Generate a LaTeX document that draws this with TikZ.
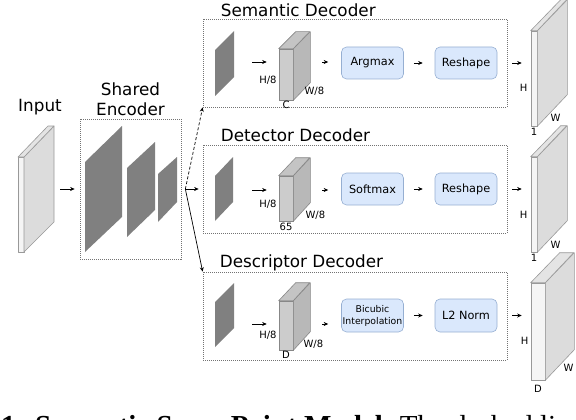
\documentclass[tikz,border=0pt]{standalone}
\usepackage{fontspec}
\setmainfont{DejaVu Sans}
\newfontfamily\capfont{Liberation Serif}
\usetikzlibrary{positioning, calc, arrows.meta}

\definecolor{encgray}{RGB}{128,128,128}
\definecolor{cubefront}{RGB}{204,204,204}
\definecolor{cubeside}{RGB}{184,184,184}
\definecolor{cubetop}{RGB}{196,196,196}
\definecolor{slabfront}{RGB}{245,245,245}
\definecolor{slabside}{RGB}{220,220,220}
\definecolor{slabtop}{RGB}{228,228,228}
\definecolor{opfill}{RGB}{218,232,252}
\definecolor{opdraw}{RGB}{150,175,210}
\definecolor{edgegray}{RGB}{135,135,135}

\begin{document}
\begin{tikzpicture}[x=1pt, y=-1pt]
\tikzset{encslab/.style={fill=encgray, draw=none},
    cubeface/.style={draw=edgegray, line width=0.6pt, line join=round},
    cubebox/.style={rectangle, draw=edgegray, fill=cubefront, line width=0.6pt, minimum width=14pt, inner sep=0},
    outface/.style={draw=edgegray!85, line width=0.6pt, line join=round},
    outbox/.style={rectangle, draw=edgegray!85, fill=slabfront, line width=0.6pt, inner sep=0},
    decbox/.style={rectangle, draw=black!55, dash pattern=on 1pt off 1pt, line width=0.7pt, minimum width=304pt, minimum height=88pt, inner sep=0},
    opbox/.style={rectangle, rounded corners=5pt, draw=opdraw, fill=opfill, line width=0.6pt, minimum width=62pt, minimum height=32pt, inner sep=1pt, font=\fontsize{11.3}{13}\selectfont},
    headtext/.style={inner sep=0, text depth=0pt, font=\fontsize{16.8}{20}\selectfont},
    dimlab/.style={inner sep=1pt, font=\fontsize{10}{12}\selectfont},
    arr/.style={-{Stealth[length=4.5pt, width=4pt]}, line width=0.7pt}
}

    \useasboundingbox (0,0) rectangle (576,420);
    \clip (0,0) rectangle (576,420);

    % input
    \filldraw[outface, fill=slabfront] (18,157) rectangle (24,252);
    \filldraw[outface, fill=slabside] (24,157) -- (54,126) -- (54,222) -- (24,252) -- cycle;
    \filldraw[outface, fill=slabtop] (18,157) -- (48,126) -- (54,126) -- (24,157) -- cycle;
    \coordinate (inslab) at (54,189);
    \node[headtext, anchor=base] (input) at (40,111) {Input};

    % shared encoder
    \node[decbox, minimum width=101pt, minimum height=140pt] (enc) at (130.5,189) {};
    \node[headtext, align=center, above=3pt of enc] (enctitle) {Shared\\Encoder};
    \fill[encslab] (85,162) -- (122,126) -- (122,217) -- (85,252) -- cycle;
    \fill[encslab] (127,168) -- (155,142) -- (155,210) -- (127,237) -- cycle;
    \fill[encslab] (158,174) -- (177,157) -- (177,202) -- (158,222) -- cycle;
    \draw[arr, shorten <=6pt, shorten >=5pt] (inslab) -- (enc.west);

    % decoder boxes
    \node[decbox] (sem) at (355,63) {};
    \node[decbox] (det) at (355,189) {};
    \node[decbox] (desc) at (355,316) {};
    \node[headtext, above right=2pt and 18pt of sem.north west] (semtitle) {Semantic Decoder};
    \node[headtext, above right=3pt and 18pt of det.north west] (dettitle) {Detector Decoder};
    \node[headtext, above right=4pt and 17pt of desc.north west] (desctitle) {Descriptor Decoder};

    \coordinate (split) at ($(enc.east)+(4,0)$);
    \draw[arr, dash pattern=on 3pt off 2pt] (split) -- (sem.south west);
    \draw[arr, shorten >=4pt] (split) -- (det.west);
    \draw[arr] (split) -- (desc.north west);

    % semantic decoder
    \fill[encslab] (215,50) -- (234,31) -- (234,77) -- (215,96) -- cycle;
    \coordinate (semfeat) at (234,62);
    \node[cubebox, minimum height=51pt] (semcube) at (286,74.5) {};
    \filldraw[cubeface, fill=cubeside] (semcube.north east) -- ++(17,-17) -- ++(0,51) -- (semcube.south east) -- cycle;
    \filldraw[cubeface, fill=cubetop] (semcube.north west) -- ++(17,-17) -- ++(14,0) -- (semcube.north east) -- cycle;
    \node[dimlab, anchor=east] (semh) at ($(semcube.west)+(-1,6)$) {H/8};
    \node[dimlab, anchor=west] (semw) at ($(semcube.south east)+(10,-9)$) {W/8};
    \node[dimlab, below=0pt of semcube] (semc) {C};
    \node[opbox] (semop) at (372.5,63) {Argmax};
    \node[opbox] (semresh) at (466,63) {Reshape};
    \node[outbox, minimum width=6pt, minimum height=95pt] (semout) at (534,78.5) {};
    \filldraw[outface, fill=slabside] (semout.north east) -- ++(30,-31) -- ++(0,95) -- (semout.south east) -- cycle;
    \filldraw[outface, fill=slabtop] (semout.north west) -- ++(30,-31) -- ++(6,0) -- (semout.north east) -- cycle;
    \node[dimlab, anchor=east] (semoh) at ($(semout.west)+(-2,9)$) {H};
    \node[dimlab, anchor=west] (semow) at ($(semout.south east)+(12,-8)$) {W};
    \node[dimlab, below=1pt of semout] (semod) {1};
    \draw[arr, shorten <=18pt, shorten >=12pt] (semfeat) -- (semfeat -| semcube.west);
    \draw[arr, shorten <=29pt, shorten >=13pt] (semfeat -| semcube.east) -- (semfeat -| semop.west);
    \draw[arr, shorten <=10pt, shorten >=12pt] (semop) -- (semresh);
    \draw[arr, shorten <=15pt, shorten >=9pt] (semresh.east) -- (semresh.east -| semout.west);

    % detector decoder
    \fill[encslab] (215,176) -- (233,157) -- (233,202) -- (215,221) -- cycle;
    \coordinate (detfeat) at (233,190);
    \node[cubebox, minimum height=45pt] (detcube) at (286,198.5) {};
    \filldraw[cubeface, fill=cubeside] (detcube.north east) -- ++(17,-18) -- ++(0,45) -- (detcube.south east) -- cycle;
    \filldraw[cubeface, fill=cubetop] (detcube.north west) -- ++(17,-18) -- ++(14,0) -- (detcube.north east) -- cycle;
    \node[dimlab, anchor=east] (deth) at ($(detcube.west)+(-1,6)$) {H/8};
    \node[dimlab, anchor=west] (detw) at ($(detcube.south east)+(11,-6)$) {W/8};
    \node[dimlab, below=1pt of detcube] (detc) {65};
    \node[opbox] (detop) at (372.5,189) {Softmax};
    \node[opbox] (detresh) at (466,189) {Reshape};
    \node[outbox, minimum width=6pt, minimum height=95pt] (detout) at (534,204.5) {};
    \filldraw[outface, fill=slabside] (detout.north east) -- ++(30,-31) -- ++(0,95) -- (detout.south east) -- cycle;
    \filldraw[outface, fill=slabtop] (detout.north west) -- ++(30,-31) -- ++(6,0) -- (detout.north east) -- cycle;
    \node[dimlab, anchor=east] (detoh) at ($(detout.west)+(-2,10)$) {H};
    \node[dimlab, anchor=west] (detow) at ($(detout.south east)+(12,-7)$) {W};
    \node[dimlab, below=1pt of detout] (detod) {1};
    \draw[arr, shorten <=19pt, shorten >=12pt] (detfeat) -- (detfeat -| detcube.west);
    \draw[arr, shorten <=29pt, shorten >=13pt] (detfeat -| detcube.east) -- (detfeat -| detop.west);
    \draw[arr, shorten <=10pt, shorten >=12pt] (detop) -- (detresh);
    \draw[arr, shorten <=15pt, shorten >=9pt] (detresh.east) -- (detresh.east -| detout.west);

    % descriptor decoder
    \fill[encslab] (215,302) -- (234,283) -- (234,328) -- (215,347) -- cycle;
    \coordinate (descfeat) at (234,324);
    \node[cubebox, minimum height=49pt] (desccube) at (286,325.5) {};
    \filldraw[cubeface, fill=cubeside] (desccube.north east) -- ++(17,-18) -- ++(0,49) -- (desccube.south east) -- cycle;
    \filldraw[cubeface, fill=cubetop] (desccube.north west) -- ++(17,-18) -- ++(14,0) -- (desccube.north east) -- cycle;
    \node[dimlab, anchor=east] (desch) at ($(desccube.west)+(-1,10)$) {H/8};
    \node[dimlab, anchor=west] (descw) at ($(desccube.south east)+(9,-6)$) {W/8};
    \node[dimlab, below=0pt of desccube] (descc) {D};
    \node[opbox, minimum height=33pt, align=center, font=\fontsize{9.3}{12}\selectfont] (descop) at (372.5,315.5) {Bicubic\\Interpolation};
    \node[opbox, minimum height=33pt] (descnorm) at (466,315.5) {L2 Norm};
    \node[outbox, minimum width=14pt, minimum height=97pt] (descout) at (538,331.5) {};
    \filldraw[outface, fill=slabside] (descout.north east) -- ++(29,-30) -- ++(0,97) -- (descout.south east) -- cycle;
    \filldraw[outface, fill=slabtop] (descout.north west) -- ++(29,-30) -- ++(14,0) -- (descout.north east) -- cycle;
    \node[dimlab, anchor=east] (descoh) at ($(descout.west)+(-1,9)$) {H};
    \node[dimlab, anchor=west] (descow) at ($(descout.south east)+(17,-12)$) {W};
    \node[dimlab, below=4pt of descout] (descod) {D};
    \draw[arr, shorten <=18pt, shorten >=12pt] (descfeat) -- (descfeat -| desccube.west);
    \draw[arr, shorten <=29pt, shorten >=13pt] (descfeat -| desccube.east) -- (descfeat -| descop.west);
    \draw[arr, shorten <=10pt, shorten >=12pt] (descop) -- (descnorm);
    \draw[arr, shorten <=15pt, shorten >=9pt] (descnorm.east) -- (descnorm.east -| descout.west);

    % caption, cut by the page edge
    \node[anchor=base west, inner sep=0, font=\capfont\fontsize{29}{34}\selectfont] (caption) at (1,435) {\textbf{1: Semantic SuperPoint Model.} The dashed li};

\end{tikzpicture}
\end{document}
